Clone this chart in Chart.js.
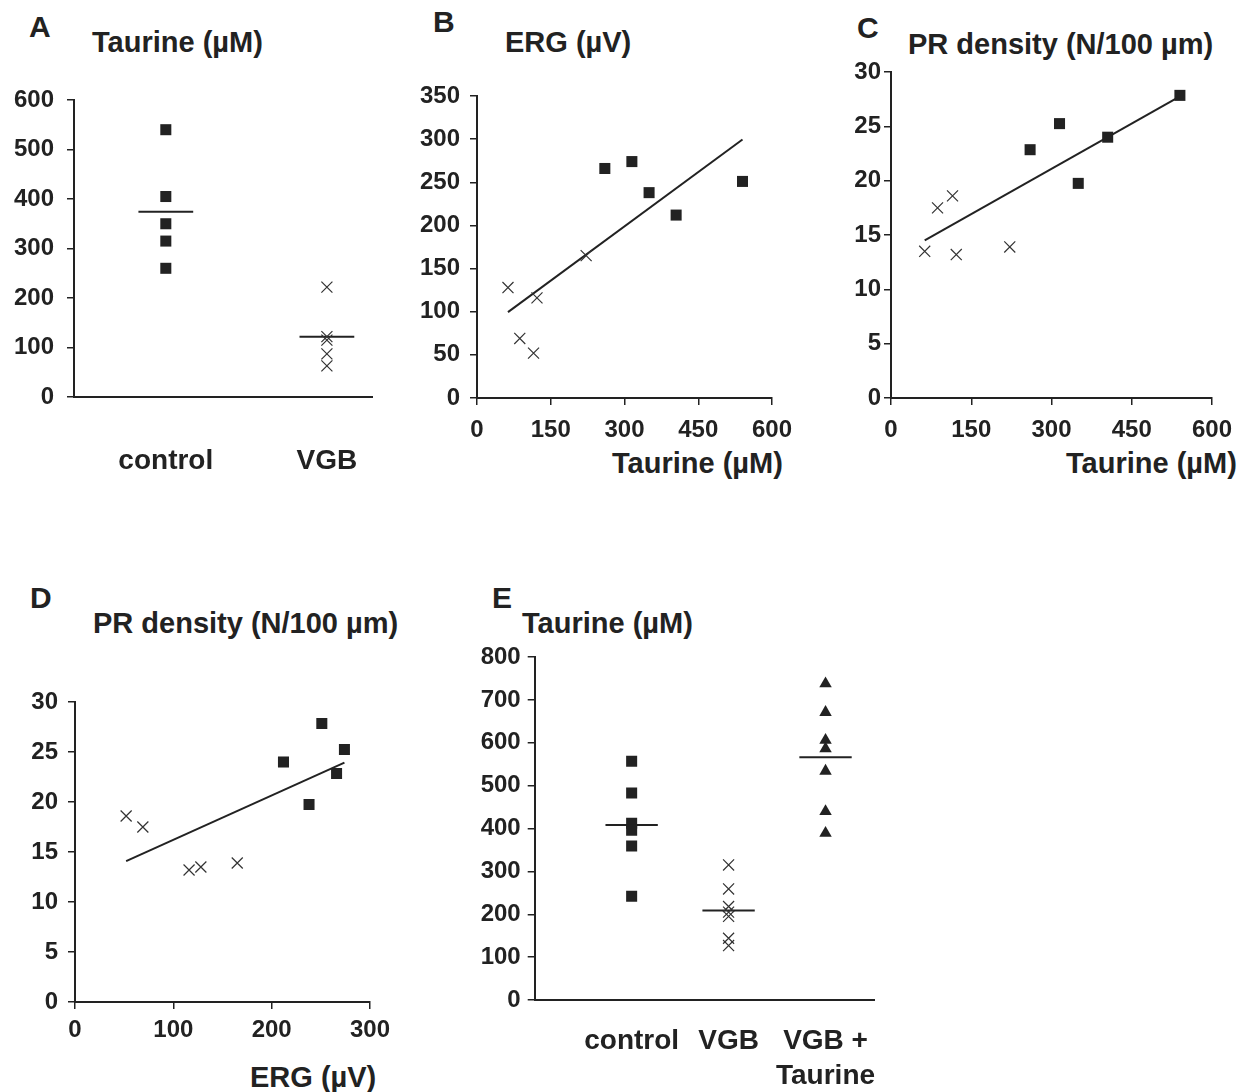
<!DOCTYPE html>
<html>
<head>
<meta charset="utf-8">
<script src="https://cdn.jsdelivr.net/npm/chart.js@4/dist/chart.umd.min.js"></script>
<style>
  body { margin: 0; background: #fff; width: 1258px; height: 1092px; position: relative; overflow: hidden; }
  canvas { position: absolute; }
  .t { position: absolute; font: bold 29px 'Liberation Sans', Arial, sans-serif; color: #222; line-height: 1; white-space: nowrap; }
  .lt { font-size: 30px; }
</style>
</head>
<body>
<!-- panel letters and titles -->
<div class="t lt" style="left:29px;top:12px">A</div>
<div class="t" style="left:92px;top:28px">Taurine (µM)</div>
<div class="t lt" style="left:433px;top:7px">B</div>
<div class="t" style="left:505px;top:28px">ERG (µV)</div>
<div class="t lt" style="left:857px;top:13px">C</div>
<div class="t" style="left:908px;top:30px">PR density (N/100 µm)</div>
<div class="t" style="left:612px;top:449px">Taurine (µM)</div>
<div class="t" style="left:1066px;top:449px">Taurine (µM)</div>
<div class="t lt" style="left:30px;top:583px">D</div>
<div class="t" style="left:93px;top:609px">PR density (N/100 µm)</div>
<div class="t" style="left:250px;top:1063px">ERG (µV)</div>
<div class="t lt" style="left:492px;top:583px">E</div>
<div class="t" style="left:522px;top:609px">Taurine (µM)</div>

<canvas id="chartA"></canvas>
<canvas id="chartB"></canvas>
<canvas id="chartC"></canvas>
<canvas id="chartD"></canvas>
<canvas id="chartE"></canvas>

<script>
// ———————— Data (A–D: same animals) ————————
const ctlTaurine = [260, 315, 350, 405, 540];      // µM
const ctlErg     = [266, 274, 238, 212, 251];      // µV
const ctlPr      = [22.85, 25.25, 19.75, 24.0, 27.85];
const vgbTaurine = [63, 87, 115, 122, 222];
const vgbErg     = [128, 69, 52, 116, 165];
const vgbPr      = [13.5, 17.5, 18.6, 13.2, 13.9];
const groupsA    = ['control', 'VGB'];

// ———————— Data (E) ————————
const groupsE      = [['control'], ['VGB'], ['VGB +', 'Taurine']];
const eControl     = [557, 483, 412, 396, 359, 242];
const eVgb         = [315, 259, 218, 205, 195, 144, 127];
const eVgbTaurine  = [738, 671, 606, 586, 534, 440, 389];

// ———————— Common look ————————
const INK = '#222';
const FONT = "'Liberation Sans', Arial, sans-serif";
Chart.defaults.font.family = FONT;
Chart.defaults.font.weight = 'bold';
Chart.defaults.color = INK;

const square = { pointStyle: 'rect', pointRadius: 7.8, pointBackgroundColor: INK, pointBorderWidth: 0 };
const cross  = { pointStyle: 'crossRot', pointRadius: 7.8, pointBorderColor: '#333', pointBorderWidth: 1.2 };
const tri    = { pointStyle: 'triangle', pointRadius: 7.2, pointBackgroundColor: INK, pointBorderWidth: 0 };

function pts(xs, ys) { return xs.map((x, i) => ({ x: x, y: ys[i] })); }
function atPos(pos, ys) { return ys.map(y => ({ x: pos, y: y })); }
function mean(a) { return a.reduce((s, v) => s + v, 0) / a.length; }

// least squares line, drawn from min x to max x
function trend(xs, ys) {
  const mx = mean(xs), my = mean(ys);
  let sxy = 0, sxx = 0;
  xs.forEach((x, i) => { sxy += (x - mx) * (ys[i] - my); sxx += (x - mx) * (x - mx); });
  const b = sxy / sxx, a = my - b * mx;
  const x0 = Math.min(...xs), x1 = Math.max(...xs);
  return [{ x: x0, y: a + b * x0 }, { x: x1, y: a + b * x1 }];
}

function meanBar(pos, ys, half) {
  const m = mean(ys);
  return [{ x: pos - half, y: m }, { x: pos + half, y: m }];
}

function lineSet(data) {
  return { data: data, showLine: true, pointRadius: 0, borderColor: INK, borderWidth: 2, fill: false };
}

function yAxis(max, step, pad, fit) {
  return {
    type: 'linear', position: 'left', min: 0, max: max,
    afterFit: fit,
    ticks: { stepSize: step, padding: pad, font: { size: 24 } },
    grid: { display: true, drawOnChartArea: false, drawTicks: true, tickLength: 7, color: INK, lineWidth: 1.5 },
    border: { display: true, color: INK, width: 2 }
  };
}

function xNumAxis(max, step, pad, fit) {
  return {
    type: 'linear', position: 'bottom', min: 0, max: max,
    afterFit: fit,
    ticks: { stepSize: step, padding: pad, font: { size: 24 }, maxRotation: 0 },
    grid: { display: true, drawOnChartArea: false, drawTicks: true, tickLength: 7, color: INK, lineWidth: 1.5 },
    border: { display: true, color: INK, width: 2 }
  };
}

function xCatAxis(labels, min, max, pad, fit) {
  return {
    type: 'linear', position: 'bottom', min: min, max: max,
    afterFit: fit,
    afterBuildTicks: s => { s.ticks = labels.map((l, i) => ({ value: i })); },
    ticks: { padding: pad, font: { size: 28, lineHeight: 1.25 }, maxRotation: 0, autoSkip: false,
             callback: v => labels[v] },
    grid: { display: false, drawTicks: false, tickLength: 0 },
    border: { display: true, color: INK, width: 2 }
  };
}

// area = plot area on the page; the canvas gets a wide margin round it so that
// Chart.js never has to shrink the area for label overflow
function makeChart(id, area, margin, datasets, scales) {
  const box = {
    left: area.left - margin.left,
    top: area.top - 50,
    w: (area.right + 80) - (area.left - margin.left),
    h: (area.bottom + margin.bottom) - (area.top - 50)
  };
  const cv = document.getElementById(id);
  cv.style.left = box.left + 'px';
  cv.style.top = box.top + 'px';
  cv.width = box.w;
  cv.height = box.h;
  const fitY = s => { s.width = margin.left; };
  const fitX = s => { s.height = margin.bottom; };
  return new Chart(cv.getContext('2d'), {
    type: 'scatter',
    data: { datasets: datasets },
    options: {
      responsive: false, animation: false, devicePixelRatio: 1,
      layout: { padding: { left: 0, bottom: 0, top: 50, right: 80 } },
      plugins: { legend: { display: false }, tooltip: { enabled: false } },
      scales: scales(fitX, fitY)
    }
  });
}

// —————— A) Taurine by group ——————
makeChart('chartA',
  { left: 74, top: 100, right: 372, bottom: 397 },
  { left: 74, bottom: 95 },
  [
    Object.assign({ data: atPos(0, ctlTaurine) }, square),
    Object.assign({ data: atPos(1, vgbTaurine) }, cross),
    lineSet(meanBar(0, ctlTaurine, 0.17)),
    lineSet(meanBar(1, vgbTaurine, 0.17))
  ],
  (fitX, fitY) => ({
    x: xCatAxis(groupsA, -0.57, 1.28, 47, fitX),
    y: yAxis(600, 100, 13, fitY)
  })
);

// —————— B) ERG vs taurine ——————
makeChart('chartB',
  { left: 477, top: 95.7, right: 772.3, bottom: 397.7 },
  { left: 77, bottom: 60 },
  [
    Object.assign({ data: pts(ctlTaurine, ctlErg) }, square),
    Object.assign({ data: pts(vgbTaurine, vgbErg) }, cross),
    lineSet(trend(ctlTaurine.concat(vgbTaurine), ctlErg.concat(vgbErg)))
  ],
  (fitX, fitY) => ({
    x: xNumAxis(600, 150, 11, fitX),
    y: yAxis(350, 50, 10, fitY)
  })
);

// —————— C) PR density vs taurine ——————
makeChart('chartC',
  { left: 891, top: 72.3, right: 1212.3, bottom: 398.3 },
  { left: 71, bottom: 60 },
  [
    Object.assign({ data: pts(ctlTaurine, ctlPr) }, square),
    Object.assign({ data: pts(vgbTaurine, vgbPr) }, cross),
    lineSet(trend(ctlTaurine.concat(vgbTaurine), ctlPr.concat(vgbPr)))
  ],
  (fitX, fitY) => ({
    x: xNumAxis(600, 150, 11, fitX),
    y: yAxis(30, 5, 3, fitY)
  })
);

// —————— D) PR density vs ERG ——————
makeChart('chartD',
  { left: 75, top: 702.3, right: 370, bottom: 1002.7 },
  { left: 75, bottom: 55 },
  [
    Object.assign({ data: pts(ctlErg, ctlPr) }, square),
    Object.assign({ data: pts(vgbErg, vgbPr) }, cross),
    lineSet(trend(ctlErg.concat(vgbErg), ctlPr.concat(vgbPr)))
  ],
  (fitX, fitY) => ({
    x: xNumAxis(300, 100, 7, fitX),
    y: yAxis(30, 5, 10, fitY)
  })
);

// —————— E) Taurine incl. supplemented group ——————
makeChart('chartE',
  { left: 534.7, top: 656.7, right: 875, bottom: 1000 },
  { left: 74.7, bottom: 92 },
  [
    Object.assign({ data: atPos(0, eControl) }, square),
    Object.assign({ data: atPos(1, eVgb) }, cross),
    Object.assign({ data: atPos(2, eVgbTaurine) }, tri),
    lineSet(meanBar(0, eControl, 0.27)),
    lineSet(meanBar(1, eVgb, 0.27)),
    lineSet(meanBar(2, eVgbTaurine, 0.27))
  ],
  (fitX, fitY) => ({
    x: xCatAxis(groupsE, -1.0, 2.5, 24, fitX),
    y: yAxis(800, 100, 7, fitY)
  })
);
</script>
</body>
</html>
